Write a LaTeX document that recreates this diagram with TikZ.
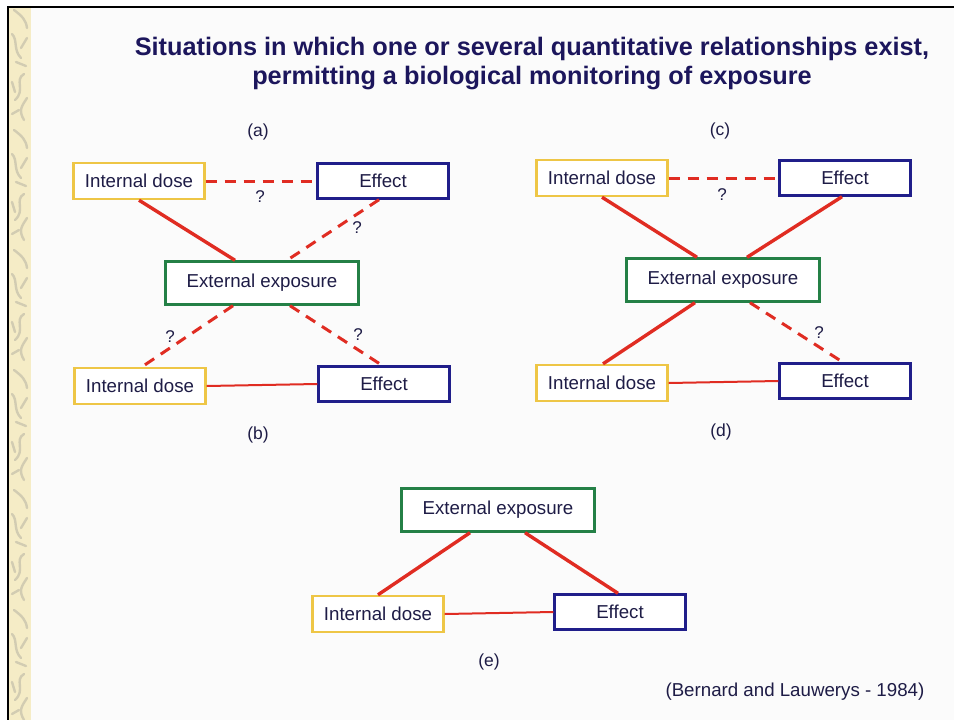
\documentclass[tikz,border=0pt]{standalone}
\usepackage{fontspec}
\setmainfont{Liberation Sans}

\definecolor{pagebg}{RGB}{251,251,251}
\definecolor{stripbg}{RGB}{245,236,198}
\definecolor{squig}{RGB}{210,204,178}
\definecolor{titlenavy}{RGB}{28,22,92}
\definecolor{textnavy}{RGB}{30,28,70}
\definecolor{doseyellow}{RGB}{238,198,70}
\definecolor{effblue}{RGB}{32,30,138}
\definecolor{expgreen}{RGB}{36,128,70}
\definecolor{linkred}{RGB}{224,44,34}

\begin{document}
\begin{tikzpicture}[x=1pt, y=-1pt]

%---- STYLES ----
\tikzset{
    box/.style={draw, line width=2.4pt, fill=white, inner sep=0pt, text=textnavy,
        font=\fontsize{18.7}{20}\selectfont},
    dosebox/.style={box, draw=doseyellow, minimum width=131pt, minimum height=36pt},
    effbox/.style={box, draw=effblue, minimum width=131pt, minimum height=35pt},
    expbox/.style={box, draw=expgreen, minimum width=193pt, minimum height=43pt},
    known/.style={draw=linkred, line width=3.4pt},
    knownflat/.style={draw=linkred, line width=2pt},
    unknown/.style={draw=linkred, line width=3pt, dash pattern=on 11pt off 8pt},
    qmark/.style={text=textnavy, font=\fontsize{17}{18}\selectfont, inner sep=0pt},
    panel/.style={text=textnavy, font=\fontsize{17.5}{18}\selectfont, inner sep=0pt},
    squiggle/.style={draw=squig, line width=2.4pt, line cap=round},
}

%---- PAGE ----
\useasboundingbox (0,0) rectangle (954,720);
\fill[pagebg] (0,0) rectangle (954,720);
\fill[white] (0,0) rectangle (954,7);
\fill[white] (0,0) rectangle (8,720);
\fill[stripbg] (9,8) rectangle (31,720);

% decorative strip
\foreach \y in {10,130,...,700} {
    \draw[squiggle] (14,\y) .. controls (22,\y+6) and (26,\y+10) .. (27,\y+18);
    \draw[squiggle] (12,\y+24) .. controls (18,\y+30) and (13,\y+40) .. (21,\y+48);
    \draw[squiggle] (27,\y+28) -- (21,\y+38);
    \draw[squiggle] (16,\y+52) -- (26,\y+56);
    \draw[squiggle] (24,\y+64) .. controls (14,\y+70) and (26,\y+80) .. (15,\y+90);
    \draw[squiggle] (12,\y+72) -- (15,\y+82);
    \draw[squiggle] (27,\y+88) .. controls (22,\y+96) and (18,\y+100) .. (24,\y+110);
    \draw[squiggle] (12,\y+104) -- (19,\y+100);
}

% frame
\draw[black, line width=2.6pt] (8,720) -- (8,7) -- (954,7);

%---- TITLE ----
\node[anchor=base, text=titlenavy, font=\bfseries\fontsize{25.3}{28}\selectfont] (title1) at (532,56)
    {Situations in which one or several quantitative relationships exist,};
\node[anchor=base, text=titlenavy, font=\bfseries\fontsize{25.3}{28}\selectfont] (title2) at (532,84)
    {permitting a biological monitoring of exposure};

%---- PANELS (a) AND (b) ----
\node[dosebox] (ia) at (139,181) {Internal dose};
\node[effbox]  (ea) at (383,181) {Effect};
\node[expbox]  (xa) at (262,283) {External exposure};
\node[dosebox] (ib) at (140,386) {Internal dose};
\node[effbox]  (eb) at (384,384) {Effect};

\draw[unknown] (ia.east) -- (ea.west);
\draw[known] (ia.south) -- ([xshift=-27pt]xa.north);
\draw[unknown] ([xshift=-4pt]ea.south) -- ([xshift=25pt]xa.north);
\draw[unknown] ([xshift=-29pt]xa.south) -- ([xshift=2pt]ib.north);
\draw[unknown] ([xshift=28pt]xa.south) -- ([xshift=-2pt]eb.north);
\draw[knownflat] (ib.east) -- (eb.west);

\node[qmark] (qa1) at (260,197) {?};
\node[qmark] (qa2) at (357,228) {?};
\node[qmark] (qb1) at (170,337) {?};
\node[qmark] (qb2) at (358,335) {?};

\node[panel] (pa) at (258,132) {(a)};
\node[panel] (pb) at (258,435) {(b)};

%---- PANELS (c) AND (d) ----
\node[dosebox] (ic) at (602,178) {Internal dose};
\node[effbox]  (ec) at (845,178) {Effect};
\node[expbox]  (xc) at (723,280) {External exposure};
\node[dosebox] (id) at (602,383) {Internal dose};
\node[effbox]  (ed) at (845,381) {Effect};

\draw[unknown] (ic.east) -- (ec.west);
\draw[known] (ic.south) -- ([xshift=-26pt]xc.north);
\draw[known] ([xshift=-3pt]ec.south) -- ([xshift=24pt]xc.north);
\draw[known] ([xshift=-28pt]xc.south) -- ([xshift=1pt]id.north);
\draw[unknown] ([xshift=27pt]xc.south) -- ([xshift=-2pt]ed.north);
\draw[knownflat] (id.east) -- (ed.west);

\node[qmark] (qc1) at (722,195) {?};
\node[qmark] (qd1) at (819,333) {?};

\node[panel] (pc) at (720,131) {(c)};
\node[panel] (pd) at (721,432) {(d)};

%---- PANEL (e) ----
\node[expbox]  (xe) at (498,510) {External exposure};
\node[dosebox] (ie) at (378,614) {Internal dose};
\node[effbox]  (ee) at (620,612) {Effect};

\draw[known] ([xshift=-28pt]xe.south) -- (ie.north);
\draw[known] ([xshift=27pt]xe.south) -- ([xshift=-2pt]ee.north);
\draw[knownflat] (ie.east) -- (ee.west);

\node[panel] (pe) at (489,662) {(e)};

%---- SOURCE ----
\node[anchor=west, text=textnavy, font=\fontsize{18.7}{20}\selectfont] (source) at (662,692)
    {(Bernard and Lauwerys - 1984)};

\end{tikzpicture}
\end{document}
